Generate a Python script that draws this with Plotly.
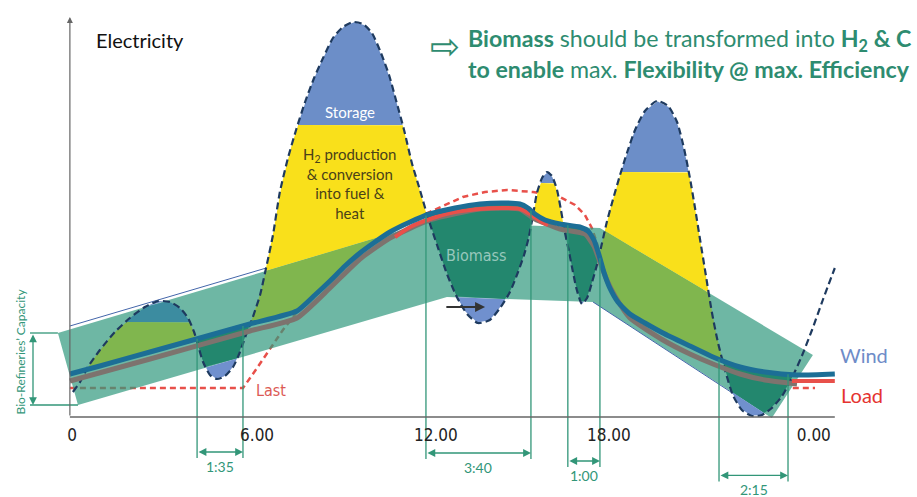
import numpy as np
import plotly.graph_objects as go

# ---------------- data (time in hours, electricity in arbitrary units) ----------------
wind_t = [0.03, 0.27, 0.53, 0.93, 1.43, 1.93, 2.43, 2.87, 3.27, 3.6, 3.87, 4.07, 4.2, 4.37, 4.6, 4.83,
          5.1, 5.37, 5.6, 5.8, 6.03, 6.27, 6.47, 6.7, 6.93, 7.2, 7.47, 7.77, 8.07, 8.37, 8.7, 9.03,
          9.37, 9.7, 10.0, 10.3, 10.57, 10.8, 11.07, 11.33, 11.6, 11.87, 12.17, 12.5, 12.83, 13.17,
          13.53, 13.93, 14.27, 14.6, 14.87, 15.07, 15.23, 15.37, 15.5, 15.67, 15.83, 16.0, 16.17,
          16.3, 16.43, 16.57, 16.7, 16.83, 17.0, 17.17, 17.33, 17.5, 17.67, 17.83, 18.03, 18.27,
          18.5, 18.77, 19.1, 19.5, 19.87, 20.17, 20.4, 20.6, 20.77, 20.93, 21.13, 21.33, 21.53,
          21.77, 22.03, 22.33, 22.67, 23.0, 23.33, 23.67, 24.0, 24.33, 24.67, 25.03, 25.43]
wind_e = [6.25, 8.75, 12.5, 16.75, 21.25, 24.75, 27.5, 29.0, 28.75, 27.25, 24.75, 21.25, 18.0, 13.75,
          10.5, 9.5, 10.25, 12.5, 16.25, 20.5, 25.0, 30.5, 37.25, 45.5, 56.25, 64.75, 71.75, 78.75,
          84.75, 89.75, 94.75, 97.5, 98.75, 98.25, 96.0, 91.0, 85.5, 79.25, 71.75, 63.5, 56.75,
          49.75, 43.0, 35.75, 30.0, 25.75, 23.5, 24.25, 27.25, 31.25, 36.25, 40.5, 45.0, 50.5,
          56.0, 59.75, 61.25, 60.25, 56.75, 51.75, 46.25, 41.25, 36.25, 31.75, 28.25, 29.75, 33.5,
          38.0, 43.5, 48.75, 54.25, 60.5, 66.0, 71.75, 76.5, 79.0, 77.75, 73.75, 67.25, 59.75,
          52.25, 44.75, 35.5, 26.25, 18.75, 11.75, 5.5, 1.75, 0.25, 0.5, 2.25, 5.25, 9.75, 15.25,
          21.75, 29.25, 37.25]

load_t = [-0.07, 0.93, 2.6, 4.27, 5.93, 7.5, 8.1, 8.6, 9.1, 9.6, 10.1, 10.6, 11.27, 11.93, 12.77,
          13.6, 14.43, 14.93, 15.2, 15.43, 15.77, 16.27, 16.93, 17.2, 17.4, 17.57, 17.73, 17.93,
          18.2, 18.6, 19.1, 19.7, 20.6, 21.37, 22.27, 23.1, 24.17, 25.43]
load_e = [10.75, 12.75, 16.25, 19.75, 23.25, 26.5, 30.5, 34.0, 37.75, 41.0, 43.75, 46.25, 48.75,
          50.75, 52.25, 53.25, 53.5, 53.25, 52.25, 50.75, 49.25, 48.25, 47.5, 46.5, 44.25, 40.5,
          36.25, 32.25, 28.75, 25.75, 23.5, 21.0, 17.75, 15.0, 12.5, 11.25, 10.5, 10.75]

base_t = [-0.07, 2.6, 5.93, 7.5, 8.6, 9.6, 10.6, 11.93, 13.6, 14.93, 15.43, 16.27, 17.1, 17.4,
          17.6, 17.83, 18.1, 18.6, 19.7, 20.6, 21.37, 22.27, 23.1, 24.17]
base_e = [9.0, 14.5, 21.5, 24.75, 32.25, 39.5, 44.75, 49.25, 52.0, 52.0, 49.5, 47.0, 45.75, 42.75,
          38.75, 34.25, 30.25, 24.75, 19.25, 15.75, 13.25, 10.75, 9.25, 8.25]

load_red_t = [10.77, 11.27, 11.93, 12.77, 13.6, 14.43, 14.93, 15.27, 15.6, 15.87, None, 24.0, 25.43]
load_red_e = [45.0, 47.5, 49.5, 51.25, 52.0, 52.25, 52.0, 50.75, 49.0, 48.0, None, 9.0, 9.0]

last_t = [-0.07, 5.7, 6.1, 6.53, 7.03, 7.5, 8.6, 9.93, 11.27, 11.93, 12.5, 13.03, 13.77, 14.5,
          15.37, 16.27, 16.77, 17.1, 17.33, 17.5, 17.6, None, 24.03, 24.77]
last_e = [7.25, 7.25, 11.5, 16.25, 21.75, 26.25, 34.25, 43.25, 49.25, 51.25, 53.25, 55.0, 56.25,
          56.75, 56.25, 55.0, 53.0, 50.5, 47.25, 43.5, 39.75, None, 7.25, 7.25]

# bio-refineries capacity band
band_t = [-0.47, 11.93, 17.6, 24.7, 23.33, 17.37, 12.5, 0.2, -0.47]
band_e = [21.0, 48.75, 47.25, 15.5, -0.25, 28.75, 30.0, 3.0, 21.0]
band_top_t = [-0.47, 11.93, 17.6, 24.7]
band_top_e = [21.0, 48.75, 47.25, 15.5]
band_bot_t = [0.2, 12.5, 17.37, 23.33]
band_bot_e = [3.0, 30.0, 28.75, -0.25]
band_edge_t = [-0.07, 10.43, None, 17.37, 22.27]
band_edge_e = [22.75, 46.0, None, 28.75, 4.75]

# level above which surplus goes to storage
storage_t = [0.0, 5.0, 5.0, 14.0, 14.0, 17.3, 17.3, 26.0]
storage_e = [23.75, 23.75, 73.0, 73.0, 58.5, 58.5, 61.25, 61.25]

tick_pos = [0, 6.17, 12.13, 17.9, 24.73]
tick_text = ["0", "6.00", "12.00", "18.00", "0.00"]

span_start = [4.17, 11.8, 16.53, 21.57]
span_end = [5.7, 15.3, 17.6, 23.87]
span_label = ["1:35", "3:40", "1:00", "2:15"]
span_row = [-8.75, -9.0, -11.0, -14.6]   # layout rows for the duration arrows

# ---------------- colours ----------------
C_YELLOW = "#F9E01B"
C_BLUE = "#6C8EC8"
C_GREEN = "#80B64E"
C_BLUETEAL = "#3C8CA0"
C_DARKTEAL = "#23876E"
C_DEFBLUE = "#7090CE"
C_BAND = "rgba(48,152,126,0.70)"
C_WIND = "#1E3A5F"
C_LOAD = "#1C6E96"
C_BASE = "#7D736E"
C_RED = "#E8504A"
C_GR = "#329678"
FONT = "Lato, Open Sans, sans-serif"
NARROW = "Liberation Sans Narrow, DejaVu Sans Condensed, sans-serif"

# ---------------- geometry of the filled areas ----------------
tg = np.arange(0.0, 25.45, 0.004)
wv = np.interp(tg, wind_t, wind_e)
lv = np.interp(tg, load_t, load_e)
bt = np.interp(tg, band_top_t, band_top_e)
bb = np.interp(tg, band_bot_t, band_bot_e)
lev = np.interp(tg, storage_t, storage_e)

surplus = (wv > lv) & (tg < 23.95)
deficit = (wv < lv) & (tg > 0.6)


def regions(lo, hi, mask):
    hi = np.where(mask, hi, lo)
    m = hi > lo + 1e-9
    d = np.diff(np.concatenate([[0], m.astype(int), [0]]))
    starts = np.flatnonzero(d == 1)
    ends = np.flatnonzero(d == -1)
    xs, ys = [], []
    for s, e in zip(starts, ends):
        if e - s < 2:
            continue
        xs += list(tg[s:e]) + list(tg[s:e][::-1]) + [None]
        ys += list(hi[s:e]) + list(lo[s:e][::-1]) + [None]
    return xs, ys


fills = [
    (np.maximum(lv, bt), np.minimum(wv, lev), surplus, C_YELLOW),
    (lv, np.minimum(np.minimum(wv, lev), bb), surplus, C_YELLOW),
    (np.maximum(lv, bb), np.minimum(np.minimum(wv, lev), bt), surplus, C_GREEN),
    (np.maximum(np.maximum(lv, lev), bt), wv, surplus, C_BLUE),
    (np.maximum(lv, lev), np.minimum(wv, bb), surplus, C_BLUE),
    (np.maximum(np.maximum(lv, lev), bb), np.minimum(wv, bt), surplus, C_BLUETEAL),
    (np.maximum(wv, bb), lv, deficit, C_DARKTEAL),
    (wv, np.minimum(lv, bb), deficit, C_DEFBLUE),
]

fig = go.Figure()

fig.add_trace(go.Scatter(x=last_t, y=last_e, mode="lines",
                         line=dict(color=C_RED, width=2.5, dash="6px,4px"), hoverinfo="skip"))
fig.add_trace(go.Scatter(x=band_t, y=band_e, mode="lines", fill="toself", fillcolor=C_BAND,
                         line=dict(width=0), hoverinfo="skip"))
fig.add_trace(go.Scatter(x=band_edge_t, y=band_edge_e, mode="lines",
                         line=dict(color="#4466AA", width=1), hoverinfo="skip"))

for lo, hi, mask, col in fills:
    xs, ys = regions(lo, hi, mask)
    if xs:
        fig.add_trace(go.Scatter(x=xs, y=ys, mode="lines", fill="toself", fillcolor=col,
                                 line=dict(width=0), hoverinfo="skip"))

fig.add_trace(go.Scatter(x=wind_t, y=wind_e, mode="lines", line_shape="spline",
                         line=dict(color=C_WIND, width=2.2, dash="7px,4px", smoothing=0.6),
                         hoverinfo="skip"))
fig.add_trace(go.Scatter(x=base_t, y=base_e, mode="lines", line_shape="spline",
                         line=dict(color=C_BASE, width=5, smoothing=0.5), hoverinfo="skip"))
fig.add_trace(go.Scatter(x=load_red_t, y=load_red_e, mode="lines", line_shape="spline",
                         line=dict(color=C_RED, width=4, smoothing=0.5), hoverinfo="skip"))
fig.add_trace(go.Scatter(x=load_t, y=load_e, mode="lines", line_shape="spline",
                         line=dict(color=C_LOAD, width=5, smoothing=0.5), hoverinfo="skip"))

# duration brackets
vx, vy = [], []
span_top_s = np.interp(span_start, load_t, load_e)
span_top_e = np.interp(span_end, load_t, load_e)
for s, e, r, ts, te in zip(span_start, span_end, span_row, span_top_s, span_top_e):
    vx += [s, s, None, e, e, None]
    vy += [ts, r - 1.5, None, te, r - 1.5, None]
fig.add_trace(go.Scatter(x=vx, y=vy, mode="lines", line=dict(color=C_GR, width=1.3),
                         hoverinfo="skip"))

fig.add_trace(go.Scatter(x=[-1.4, -0.47, None, -1.4, 0.2], y=[21.0, 21.0, None, 3.0, 3.0],
                         mode="lines", line=dict(color=C_GR, width=1.3), hoverinfo="skip"))

ann = []
for s, e, r, lab in zip(span_start, span_end, span_row, span_label):
    ann.append(dict(x=e, y=r, ax=s, ay=r, xref="x", yref="y", axref="x", ayref="y",
                    showarrow=True, arrowhead=2, arrowside="end+start", arrowsize=1.2,
                    arrowwidth=1.3, arrowcolor=C_GR, text=""))
    ann.append(dict(x=(s + e) / 2, y=r - 3.6, xref="x", yref="y", showarrow=False, text=lab,
                    font=dict(size=14, color=C_GR, family=FONT)))

ann.append(dict(x=-1.3, y=3.0, ax=-1.3, ay=21.0, xref="x", yref="y", axref="x", ayref="y",
                showarrow=True, arrowhead=2, arrowside="end+start", arrowsize=1.2,
                arrowwidth=1.3, arrowcolor=C_GR, text=""))
ann.append(dict(x=-1.75, y=16.25, xref="x", yref="y", showarrow=False, textangle=-90,
                text="Bio-Refineries’ Capacity",
                font=dict(size=12, color=C_GR, family=FONT)))

ann.append(dict(x=-0.07, y=100, ax=-0.07, ay=0, xref="x", yref="y", axref="x", ayref="y",
                showarrow=True, arrowhead=2, arrowsize=1, arrowwidth=1.2, arrowcolor="#666",
                text=""))
fig.add_trace(go.Scatter(x=[-0.07, 25.43], y=[0, 0], mode="lines",
                         line=dict(color="#666", width=1.5), hoverinfo="skip"))

ann.append(dict(x=13.77, y=27.5, ax=12.43, ay=27.5, xref="x", yref="y", axref="x", ayref="y",
                showarrow=True, arrowhead=2, arrowsize=1, arrowwidth=2, arrowcolor="#333",
                text=""))

ann += [
    dict(x=2.27, y=94.25, xref="x", yref="y", showarrow=False, text="Electricity",
         font=dict(size=20, color="#111", family=FONT)),
    dict(x=9.27, y=76.25, xref="x", yref="y", showarrow=False, text="Storage",
         font=dict(size=15, color="white", family=FONT)),
    dict(x=9.27, y=58.5, xref="x", yref="y", showarrow=False,
         text="H<sub>2</sub> production<br>& conversion<br>into fuel &<br>heat",
         font=dict(size=15, color="#4A4218", family=FONT)),
    dict(x=13.5, y=40.5, xref="x", yref="y", showarrow=False, text="Biomass",
         font=dict(size=16, color="#98C8BC", family=NARROW)),
    dict(x=6.63, y=6.75, xref="x", yref="y", showarrow=False, text="Last",
         font=dict(size=16, color="#DC5A55", family=NARROW)),
    dict(x=26.4, y=15.5, xref="x", yref="y", showarrow=False, text="Wind",
         font=dict(size=20, color="#6E8CC8", family=FONT)),
    dict(x=26.35, y=5.5, xref="x", yref="y", showarrow=False, text="Load",
         font=dict(size=20, color="#E53330", family=FONT)),
    dict(x=445 / 917, y=1 - 24 / 497, xref="paper", yref="paper", showarrow=False, text="⇨",
         font=dict(size=36, color="#2E8C70", family="DejaVu Sans, sans-serif")),
    dict(x=466 / 917, y=1 - 22 / 497, xref="paper", yref="paper", xanchor="left",
         showarrow=False,
         text="<b>Biomass</b> should be transformed into <b>H<sub>2</sub> & C</b>",
         font=dict(size=23.2, color="#2E8C70", family=FONT)),
    dict(x=466 / 917, y=1 - 53 / 497, xref="paper", yref="paper", xanchor="left",
         showarrow=False,
         text="<b>to enable</b> max. <b>Flexibility @ max. Efficiency</b>",
         font=dict(size=23.2, color="#2E8C70", family=FONT)),
]

fig.update_layout(
    width=917, height=497,
    margin=dict(l=0, r=0, t=0, b=0),
    paper_bgcolor="white", plot_bgcolor="white",
    showlegend=False,
    annotations=ann,
    xaxis=dict(range=[-2.4, 28.17], anchor="free", position=80 / 497,
               tickmode="array", tickvals=tick_pos, ticktext=tick_text,
               showgrid=False, zeroline=False, showline=False, ticks="",
               ticklabelstandoff=6,
               tickfont=dict(size=17, color="#222", family=NARROW)),
    yaxis=dict(range=[-20, 104.25], visible=False, showgrid=False, zeroline=False),
)

fig.write_html("out.html", config={"displayModeBar": False},
               post_script="document.body.style.margin='0';")
